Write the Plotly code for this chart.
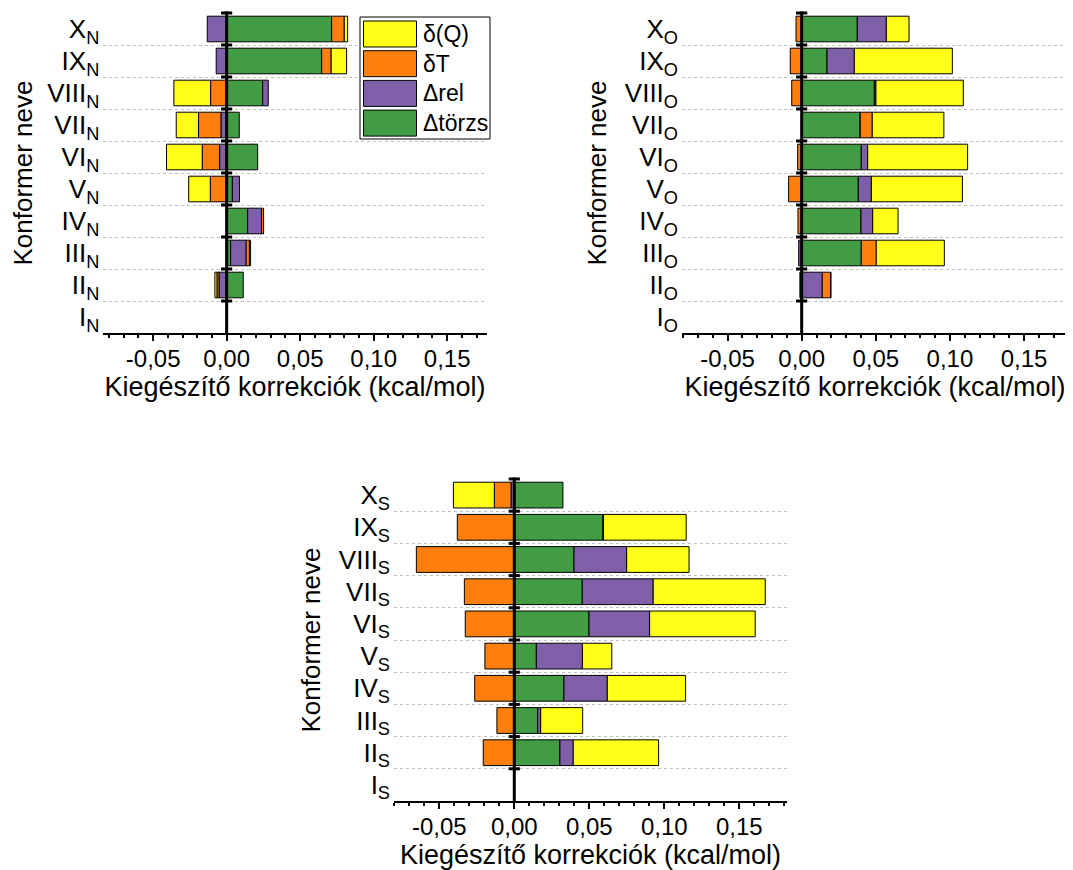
import plotly.graph_objects as go

# ---------------- data ----------------
CONFORMERS = ["I", "II", "III", "IV", "V", "VI", "VII", "VIII", "IX", "X"]
SERIES = ["Δtörzs", "Δrel", "δT", "δ(Q)"]           # stacking order from zero outwards
COLORS = ["#419C44", "#7E5FA8", "#FF7F0E", "#FFFF1A"]
X_TITLE = "Kiegészítő korrekciók (kcal/mol)"
Y_TITLE = "Konformer neve"

# panel N
N_TORZS = [0, 0.0113, 0.0027, 0.0143, 0.0039, 0.0211, 0.0086, 0.0245, 0.0646, 0.0714]
N_REL   = [0, -0.0052, 0.0106, 0.0094, 0.0048, -0.0048, -0.0039, 0.0038, -0.0071, -0.0132]
N_DT    = [0, -0.0014, 0.0022, 0.0014, -0.0111, -0.0118, -0.0152, -0.0109, 0.0065, 0.0086]
N_DQ    = [0, -0.0014, 0.0008, 0, -0.0147, -0.0243, -0.0152, -0.0250, 0.0105, 0.0023]

# panel O
O_TORZS = [0, -0.0012, 0.0402, 0.0400, 0.0382, 0.0402, 0.0395, 0.0490, 0.0171, 0.0375]
O_REL   = [0, 0.0139, -0.0020, 0.0079, 0.0088, 0.0043, 0, 0.0011, 0.0184, 0.0196]
O_DT    = [0, 0.0057, 0.0101, -0.0025, -0.0088, -0.0027, 0.0081, -0.0067, -0.0077, -0.0038]
O_DQ    = [0, 0, 0.0459, 0.0171, 0.0614, 0.0674, 0.0483, 0.0589, 0.0661, 0.0153]

# panel S
S_TORZS = [0, 0.0304, 0.0156, 0.0331, 0.0147, 0.0498, 0.0453, 0.0398, 0.0591, 0.0324]
S_REL   = [0, 0.0089, 0.0020, 0.0289, 0.0307, 0.0404, 0.0473, 0.0351, 0.0004, -0.0022]
S_DT    = [0, -0.0207, -0.0116, -0.0264, -0.0196, -0.0327, -0.0333, -0.0653, -0.0380, -0.0111]
S_DQ    = [0, 0.0569, 0.0280, 0.0522, 0.0196, 0.0704, 0.0747, 0.0416, 0.0551, -0.0273]

TICK_VALUES = [-0.05, 0.0, 0.05, 0.10, 0.15]
TICK_LABELS = ["-0,05", "0,00", "0,05", "0,10", "0,15"]

# ---------------- layout helpers ----------------
# the page body has an 8 px margin, so the figure starts at (8, 8) of the window
OFF = 8
W, H = 1073 - OFF, 870 - OFF
FONT = "Liberation Sans, Arial, sans-serif"

def px_x(p):
    return (p - OFF) / W

def px_y(p):
    return 1 - (p - OFF) / H

panels = [
    dict(sub="N", data=[N_TORZS, N_REL, N_DT, N_DQ], xa="x", ya="y",
         xdom=[px_x(103.3), px_x(486.7)], ydom=[px_y(333), px_y(13)], xr=[-0.0839, 0.1769]),
    dict(sub="O", data=[O_TORZS, O_REL, O_DT, O_DQ], xa="x2", ya="y2",
         xdom=[px_x(682), px_x(1068)], ydom=[px_y(333), px_y(13)], xr=[-0.0807, 0.1796]),
    dict(sub="S", data=[S_TORZS, S_REL, S_DT, S_DQ], xa="x3", ya="y3",
         xdom=[px_x(394), px_x(787)], ydom=[px_y(801), px_y(479)], xr=[-0.0802, 0.1818]),
]

ypos = list(range(len(CONFORMERS)))
boundaries = [i + 0.5 for i in range(len(CONFORMERS) - 1)]
zero_ticks = [i + 0.5 for i in range(len(CONFORMERS))]

fig = go.Figure()
layout = dict(
    width=W, height=H, autosize=False,
    margin=dict(l=0, r=0, t=0, b=0, pad=0),
    paper_bgcolor="white", plot_bgcolor="white",
    barmode="relative", bargap=0.2,
    separators=", ",
    showlegend=False,
    font=dict(family=FONT, color="black"),
    shapes=[], annotations=[],
)

for k, p in enumerate(panels):
    for name, vals, col in zip(SERIES, p["data"], COLORS):
        fig.add_trace(go.Bar(
            x=vals, y=ypos, orientation="h", name=name,
            marker=dict(color=col, line=dict(color="black", width=1)),
            xaxis=p["xa"], yaxis=p["ya"], showlegend=False,
        ))
    # tick marks on the zero (category) axis
    fig.add_trace(go.Scatter(
        x=[0] * len(zero_ticks), y=zero_ticks, mode="markers",
        marker=dict(symbol="line-ew", size=8, line=dict(color="black", width=3)),
        xaxis=p["xa"], yaxis=p["ya"], showlegend=False, hoverinfo="skip",
        cliponaxis=False,
    ))
    suffix = "" if k == 0 else str(k + 1)
    layout["xaxis" + suffix] = dict(
        domain=p["xdom"], anchor=p["ya"], range=p["xr"], automargin=False,
        showline=True, linecolor="black", linewidth=2,
        ticks="outside", ticklen=6, tickwidth=2, tickcolor="black",
        tickmode="array", tickvals=TICK_VALUES, ticktext=TICK_LABELS,
        ticklabelstandoff=-3,
        minor=dict(dtick=0.01, tick0=0, ticks="outside", ticklen=3,
                   tickwidth=1.5, tickcolor="black", showgrid=False),
        showgrid=False, zeroline=False,
        tickfont=dict(size=24, family=FONT, color="black"),
        title=dict(text=X_TITLE, font=dict(size=27, family=FONT, color="black"), standoff=3),
    )
    layout["yaxis" + suffix] = dict(
        domain=p["ydom"], anchor=p["xa"], range=[-0.5, len(CONFORMERS) - 0.5],
        automargin=False,
        tickmode="array", tickvals=ypos,
        ticktext=[f"{c}<sub>{p['sub']}</sub>" for c in CONFORMERS],
        showline=False, ticks="", showgrid=False, zeroline=False,
        ticklabelstandoff=3,
        minor=dict(tickmode="array", tickvals=boundaries, showgrid=True,
                   gridcolor="#c0c0c0", griddash="dot", gridwidth=1, ticks=""),
        tickfont=dict(size=26, family=FONT, color="black"),
        title=dict(text=Y_TITLE, font=dict(size=26, family=FONT, color="black"), standoff=10),
    )
    # thick vertical zero line drawn above the bars
    layout["shapes"].append(dict(
        type="line", xref=p["xa"], yref=p["ya"] + " domain",
        x0=0, x1=0, y0=0, y1=1.005, layer="above",
        line=dict(color="black", width=3),
    ))

# ---------------- custom legend (large swatches like the original) ----------------
leg_left, leg_right, leg_top, leg_bottom = 360, 490, 17, 139
layout["shapes"].append(dict(
    type="rect", xref="paper", yref="paper",
    x0=px_x(leg_left), x1=px_x(leg_right), y0=px_y(leg_bottom), y1=px_y(leg_top),
    line=dict(color="black", width=1), fillcolor="white", layer="above",
))
row_h = 29.7
for i, (name, col) in enumerate(zip(SERIES[::-1], COLORS[::-1])):
    top = 21 + i * row_h
    layout["shapes"].append(dict(
        type="rect", xref="paper", yref="paper",
        x0=px_x(363.5), x1=px_x(416.5), y0=px_y(top + 26), y1=px_y(top),
        line=dict(color="black", width=1), fillcolor=col, layer="above",
    ))
    layout["annotations"].append(dict(
        xref="paper", yref="paper", x=px_x(421), y=px_y(top + 13),
        text=name, showarrow=False, xanchor="left", yanchor="middle",
        font=dict(size=23, family=FONT, color="black"),
    ))

fig.update_layout(**layout)
fig.write_html("out.html")
